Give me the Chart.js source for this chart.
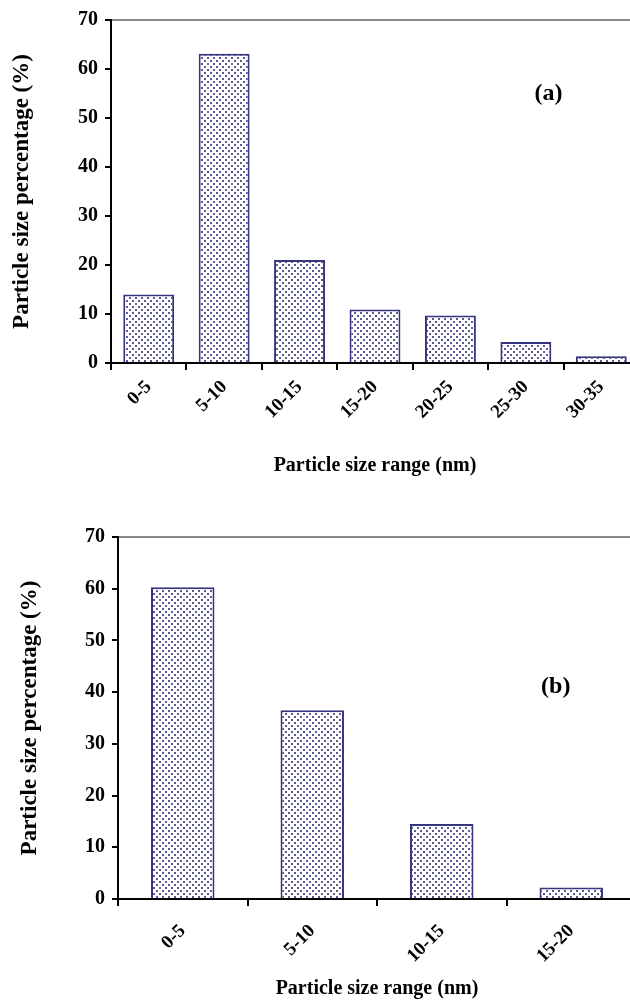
<!DOCTYPE html>
<html>
<head>
<meta charset="utf-8">
<script src="https://cdn.jsdelivr.net/npm/chart.js@4.4.1/dist/chart.umd.min.js"></script>
<style>
  html, body { margin: 0; padding: 0; background: #fff; overflow: hidden; width: 630px; height: 1001px; }
  .panel { position: absolute; left: 0; width: 650px; }
  #panelA { top: 0; height: 480px; }
  #panelB { top: 500px; height: 501px; }
</style>
</head>
<body>
<div class="panel" id="panelA"><canvas id="chartA"></canvas></div>
<div class="panel" id="panelB"><canvas id="chartB"></canvas></div>
<script>
// values
const categoriesA = ['0-5', '5-10', '10-15', '15-20', '20-25', '25-30', '30-35'];
const percentA = [14, 63.1, 21, 10.9, 9.7, 4.3, 1.4];
const categoriesB = ['0-5', '5-10', '10-15', '15-20'];
const percentB = [60.3, 36.5, 14.5, 2.2];
const yMin = 0, yMax = 70, yStep = 10;
const xTitle = 'Particle size range (nm)';
const yTitle = 'Particle size percentage (%)';

const serif = '"Liberation Serif", "Times New Roman", serif';

function dotPattern(ctx) {
    const c = document.createElement('canvas');
    c.width = 6; c.height = 6;
    const g = c.getContext('2d');
    g.fillStyle = '#ffffff';
    g.fillRect(0, 0, 6, 6);
    g.fillStyle = '#5c5c96';
    g.fillRect(0, 0, 2, 2);
    g.fillRect(3, 3, 2, 2);
    return ctx.createPattern(c, 'repeat');
}

// draws the (a)/(b) tag in data coordinates
const panelTag = {
    id: 'panelTag',
    afterDraw(chart, args, opts) {
        const { ctx, scales } = chart;
        ctx.save();
        ctx.font = 'bold 24px ' + serif;
        ctx.fillStyle = '#000';
        ctx.textAlign = 'center';
        ctx.textBaseline = 'middle';
        ctx.fillText(opts.text, scales.x.getPixelForValue(opts.at[0]), scales.y.getPixelForValue(opts.at[1]));
        ctx.restore();
    }
};

function makeChart(id, labels, values, cfg) {
    const ctx = document.getElementById(id).getContext('2d');
    return new Chart(ctx, {
        type: 'bar',
        data: {
            labels: labels,
            datasets: [{
                data: values,
                backgroundColor: dotPattern(ctx),
                borderColor: '#35357f',
                borderWidth: 2,
                barPercentage: cfg.barPct,
                categoryPercentage: 1
            }]
        },
        options: {
            responsive: true,
            maintainAspectRatio: false,
            animation: false,
            layout: { padding: { top: cfg.top, right: cfg.right, left: 0, bottom: 0 } },
            plugins: {
                legend: { display: false },
                tooltip: { enabled: false },
                panelTag: { text: cfg.tag, at: cfg.tagAt }
            },
            scales: {
                x: {
                    grid: { drawOnChartArea: false, tickLength: 7, color: '#000', lineWidth: 2 },
                    border: { color: '#000', width: 2 },
                    ticks: {
                        autoSkip: false, minRotation: 45, maxRotation: 45, padding: cfg.xTickPad,
                        color: '#000', font: { family: serif, weight: 'bold', size: 19 }
                    },
                    title: {
                        display: true, text: xTitle, color: '#000',
                        font: { family: serif, weight: 'bold', size: 20 },
                        padding: { top: 0, bottom: cfg.xTitlePad }
                    },
                    afterFit: s => { s.height = cfg.xHeight; }
                },
                y: {
                    min: yMin, max: yMax,
                    grid: {
                        color: c => (c.tick && c.tick.value === yMax) ? '#8a8a8a' : 'rgba(0,0,0,0)',
                        tickColor: '#000', tickLength: 6, lineWidth: 2
                    },
                    border: { color: '#000', width: 2 },
                    ticks: {
                        stepSize: yStep, padding: 7, color: '#000',
                        font: { family: serif, weight: 'bold', size: 20 }
                    },
                    title: {
                        display: true, text: yTitle, color: '#000',
                        font: { family: serif, weight: 'bold', size: 23 },
                        padding: { top: cfg.yTitlePad, bottom: 0 }
                    },
                    afterFit: s => { s.width = cfg.yWidth; }
                }
            }
        },
        plugins: [panelTag]
    });
}

makeChart('chartA', categoriesA, percentA, {
    barPct: 0.675, top: 20, right: 11, yWidth: 111, xHeight: 117, xTitlePad: 2, xTickPad: 6,
    yTitlePad: 8, tag: '(a)', tagAt: [5.3, 55]
});
makeChart('chartB', categoriesB, percentB, {
    barPct: 0.49, top: 37, right: 14, yWidth: 118, xHeight: 102, xTitlePad: 0, xTickPad: 14,
    yTitlePad: 16, tag: '(b)', tagAt: [2.88, 41]
});
</script>
</body>
</html>
